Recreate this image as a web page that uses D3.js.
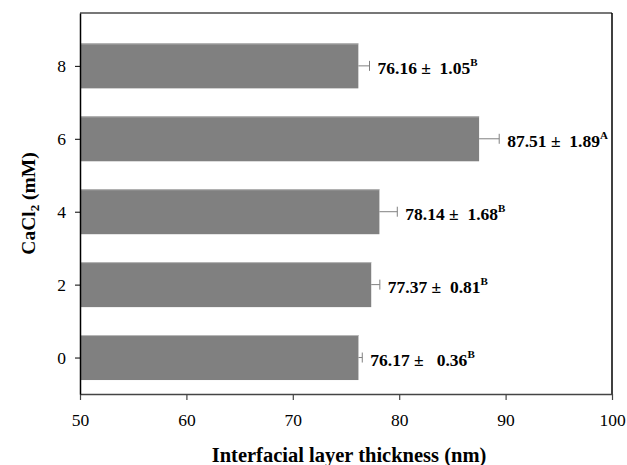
<!DOCTYPE html>
<html>
<head>
<meta charset="utf-8">
<script src="https://d3js.org/d3.v7.min.js"></script>
<style>
  body { margin: 0; background: #fff; }
  svg { font-family: "Liberation Serif", "Times New Roman", serif; }
  .lbl { white-space: pre; }
</style>
</head>
<body>
<svg width="627" height="465"></svg>
<script>
// data
const concentrations = [0, 2, 4, 6, 8];
const thickness = [76.17, 77.37, 78.14, 87.51, 76.16];
const sdErr = [0.36, 0.81, 1.68, 1.89, 1.05];
const valueText = ["76.17 \u00b1   0.36", "77.37 \u00b1  0.81", "78.14 \u00b1  1.68", "87.51 \u00b1  1.89", "76.16 \u00b1  1.05"];
const letters = ["B", "B", "B", "A", "B"];
const xTicks = [50, 60, 70, 80, 90, 100];

const svg = d3.select("svg");
const plotL = 80, plotR = 612, plotT = 13, plotB = 394;

const x = d3.scaleLinear().domain([50, 100]).range([plotL, plotR]);
const y = d3.scaleLinear().domain([-1, 9.45]).range([plotB, plotT]);
const barH = 45;

const rows = concentrations.map((c, i) => ({c, v: thickness[i], e: sdErr[i], t: valueText[i], l: letters[i]}));

// bars
const bars = svg.append("g");
bars.selectAll("rect")
  .data(rows)
  .enter().append("rect")
  .attr("x", x(50))
  .attr("y", d => y(d.c) - barH / 2)
  .attr("width", d => x(d.v) - x(50))
  .attr("height", barH)
  .attr("fill", "#808080");
// faint light edge on top of each bar
bars.selectAll("line")
  .data(rows)
  .enter().append("line")
  .attr("x1", x(50)).attr("x2", d => x(d.v))
  .attr("y1", d => y(d.c) - barH / 2 + 0.5).attr("y2", d => y(d.c) - barH / 2 + 0.5)
  .attr("stroke", "#b8b8b8").attr("stroke-width", 1);

// error bars (right side only)
const eb = svg.append("g").attr("stroke", "#808080").attr("stroke-width", 1);
eb.selectAll("line.h").data(rows).enter().append("line")
  .attr("x1", d => x(d.v)).attr("x2", d => x(d.v + d.e))
  .attr("y1", d => y(d.c)).attr("y2", d => y(d.c));
eb.selectAll("line.c").data(rows).enter().append("line")
  .attr("x1", d => x(d.v + d.e)).attr("x2", d => x(d.v + d.e))
  .attr("y1", d => y(d.c) - 5).attr("y2", d => y(d.c) + 5);

// value labels
const lbl = svg.append("g").selectAll("text")
  .data(rows)
  .enter().append("text")
  .attr("class", "lbl")
  .attr("x", d => x(d.v + d.e) + 8)
  .attr("y", d => y(d.c) + 8)
  .attr("font-size", 17.5)
  .attr("font-weight", "bold")
  .attr("fill", "#000");
lbl.append("tspan").text(d => d.t);
lbl.append("tspan").attr("dy", -8).attr("font-size", 11).text(d => d.l);

// frame: top gray, right black
svg.append("line").attr("x1", plotL).attr("x2", plotR).attr("y1", plotT).attr("y2", plotT)
  .attr("stroke", "#777").attr("stroke-width", 2);
svg.append("line").attr("x1", plotR).attr("x2", plotR).attr("y1", plotT).attr("y2", plotB)
  .attr("stroke", "#000").attr("stroke-width", 1.5);

// x axis
const xAxis = svg.append("g")
  .attr("transform", `translate(0,${plotB})`)
  .call(d3.axisBottom(x).tickValues(xTicks).tickSize(6).tickPadding(14).tickSizeOuter(0));
xAxis.select(".domain").attr("stroke", "#444").attr("stroke-width", 1.5);
xAxis.selectAll(".tick line").attr("stroke", "#444").attr("stroke-width", 1.2);
xAxis.selectAll(".tick text").attr("font-size", 17.5).attr("font-family", "Liberation Serif").attr("fill", "#000");

// y axis
const yAxis = svg.append("g")
  .attr("transform", `translate(${plotL},0)`)
  .call(d3.axisLeft(y).tickValues(concentrations).tickSize(5).tickPadding(9).tickSizeOuter(0));
yAxis.select(".domain").attr("stroke", "#000").attr("stroke-width", 1.5);
yAxis.selectAll(".tick line").attr("stroke", "#000");
yAxis.selectAll(".tick text").attr("font-size", 17.5).attr("font-family", "Liberation Serif").attr("fill", "#000");

// axis titles
svg.append("text")
  .attr("x", 349)
  .attr("y", 462)
  .attr("text-anchor", "middle")
  .attr("font-size", 20.5)
  .attr("font-weight", "bold")
  .text("Interfacial layer thickness (nm)");

const yt = svg.append("text")
  .attr("transform", `translate(35,${(plotT + plotB) / 2}) rotate(-90)`)
  .attr("text-anchor", "middle")
  .attr("font-size", 19.5)
  .attr("font-weight", "bold");
yt.append("tspan").text("CaCl");
yt.append("tspan").attr("font-size", 13).attr("dy", 4).text("2");
yt.append("tspan").attr("dy", -4).text(" (mM)");
</script>
</body>
</html>
